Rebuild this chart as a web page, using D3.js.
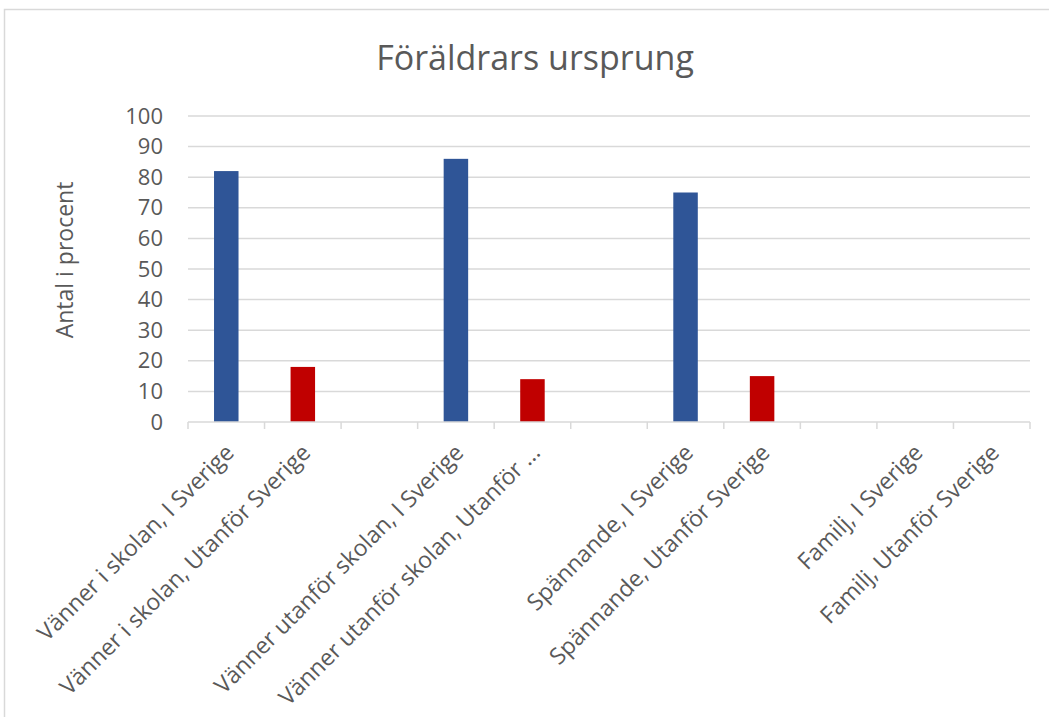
<!DOCTYPE html>
<html>
<head>
<meta charset="utf-8">
<script src="https://cdn.jsdelivr.net/npm/d3@7"></script>
<style>
  html, body { margin: 0; padding: 0; background: #fff; }
  svg { display: block; font-family: "Open Sans", "Liberation Sans", sans-serif; }
</style>
</head>
<body>
<svg id="chart" width="1049" height="717"></svg>
<script>
/* ── Data ─────────────────────────────────────────────── */
const categories = [
  "Vänner i skolan, I Sverige",
  "Vänner i skolan, Utanför Sverige",
  "",
  "Vänner utanför skolan, I Sverige",
  "Vänner utanför skolan, Utanför ...",
  " ",
  "Spännande, I Sverige",
  "Spännande, Utanför Sverige",
  "  ",
  "Familj, I Sverige",
  "Familj, Utanför Sverige"
];
const values  = [82, 18, null, 86, 14, null, 75, 15, null, null, null];
const origin  = ["I", "U", null, "I", "U", null, "I", "U", null, "I", "U"];
const yTicks  = [0, 10, 20, 30, 40, 50, 60, 70, 80, 90, 100];

const COLORS = { I: "#2F5597", U: "#C00000" };

/* ── Layout ───────────────────────────────────────────── */
const M = { left: 188, right: 1030, top: 116, bottom: 422 };
const svg = d3.select("#chart");

// chart border (Excel frame, partially cropped)
svg.append("path")
  .attr("d", "M4.5,717 V9.5 H1049")
  .attr("fill", "none").attr("stroke", "#D9D9D9").attr("stroke-width", 1.5);

const x = d3.scaleBand().domain(categories).range([M.left, M.right]).paddingInner(0).paddingOuter(0);
const y = d3.scaleLinear().domain([0, 100]).range([M.bottom, M.top]);

/* gridlines */
svg.append("g")
  .selectAll("line")
  .data(yTicks.filter(d => d > 0))
  .join("line")
  .attr("x1", M.left).attr("x2", M.right)
  .attr("y1", d => y(d)).attr("y2", d => y(d))
  .attr("stroke", "#D9D9D9").attr("stroke-width", 1.5);

/* y axis labels */
const yAxis = svg.append("g")
  .attr("transform", `translate(${M.left},0)`)
  .call(d3.axisLeft(y).tickValues(yTicks).tickSize(0).tickPadding(25));
yAxis.select(".domain").remove();
yAxis.selectAll("text")
  .attr("fill", "#595959").style("font-size", "22px")
  .style("font-family", "'Open Sans', sans-serif");

/* bars */
const bw = x.bandwidth() * 0.32;
svg.append("g")
  .selectAll("rect")
  .data(categories.map((c, i) => ({ c, v: values[i], o: origin[i] })).filter(d => d.v != null))
  .join("rect")
  .attr("x", d => x(d.c) + x.bandwidth() / 2 - bw / 2)
  .attr("width", bw)
  .attr("y", d => y(d.v))
  .attr("height", d => y(0) - y(d.v))
  .attr("fill", d => COLORS[d.o]);

/* x axis line + tick marks at category boundaries */
const xa = svg.append("g");
xa.append("line")
  .attr("x1", M.left).attr("x2", M.right)
  .attr("y1", y(0)).attr("y2", y(0))
  .attr("stroke", "#D9D9D9").attr("stroke-width", 1.5);
const bounds = categories.map(c => x(c)).concat([M.right]);
xa.selectAll(".tk")
  .data(bounds)
  .join("line")
  .attr("class", "tk")
  .attr("x1", d => d).attr("x2", d => d)
  .attr("y1", y(0)).attr("y2", y(0) + 7)
  .attr("stroke", "#D9D9D9").attr("stroke-width", 1.5);

/* rotated category labels */
xa.selectAll(".xl")
  .data(categories.filter(c => c.trim() !== ""))
  .join("text")
  .attr("class", "xl")
  .attr("text-anchor", "end")
  .attr("transform", d => `translate(${x(d) + x.bandwidth() / 2 + 9},${y(0) + 32}) rotate(-45)`)
  .attr("fill", "#595959")
  .style("font-size", "23px")
  .text(d => d);

/* title */
svg.append("text")
  .attr("x", 535).attr("y", 70)
  .attr("text-anchor", "middle")
  .attr("fill", "#595959")
  .style("font-size", "34px")
  .text("Föräldrars ursprung");

/* y axis title */
svg.append("text")
  .attr("transform", `translate(73,260) rotate(-90)`)
  .attr("text-anchor", "middle")
  .attr("fill", "#595959")
  .style("font-size", "23px")
  .text("Antal i procent");
</script>
</body>
</html>
